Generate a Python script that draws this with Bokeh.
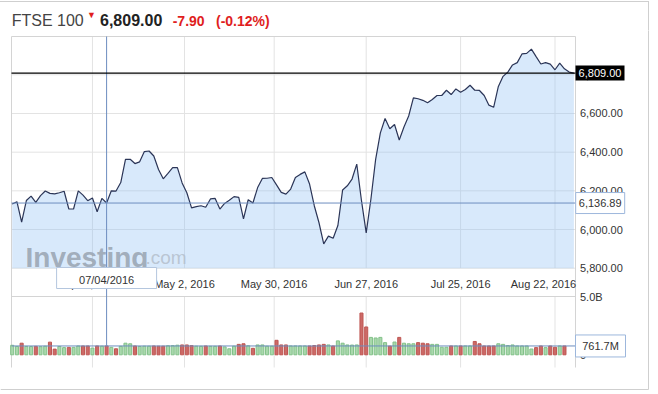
import numpy as np
import pandas as pd
from bokeh.plotting import figure
from bokeh.models import Range1d, Div
from bokeh.core.properties import value
from bokeh.layouts import column
from bokeh.embed import file_html
from bokeh.resources import INLINE

# ---------------- data ----------------
start_date = "2016-03-08"
end_date = "2016-08-26"
holidays = ["2016-03-25", "2016-03-28", "2016-05-02", "2016-05-30"]

close = [
    6132, 6144, 6038, 6150, 6173, 6140, 6175, 6199, 6187, 6184,
    6190, 6198, 6106, 6106, 6200, 6178, 6149, 6163, 6092, 6161,
    6136.89, 6200, 6199, 6243, 6363, 6363, 6341, 6350, 6403, 6406,
    6380, 6310, 6262, 6290, 6320, 6320, 6241, 6190, 6112, 6118,
    6123, 6115, 6158, 6161, 6106, 6135, 6151, 6170, 6166, 6055,
    6154, 6137, 6217, 6264, 6265, 6269, 6231, 6192, 6183, 6209,
    6269, 6285, 6298, 6235, 6123, 6035, 5926, 5966, 5955, 6021,
    6204, 6226, 6261, 6338, 6149, 5983, 6158, 6363, 6500, 6574,
    6521, 6543, 6463, 6530, 6587, 6681, 6676, 6668, 6655, 6672,
    6693, 6693, 6720, 6698, 6727, 6710, 6724, 6746, 6720, 6719,
    6693, 6643, 6632, 6740, 6792, 6814, 6851, 6863, 6908, 6911,
    6933, 6894, 6856, 6863, 6855, 6826, 6860, 6831, 6814, 6809,
]

volume_m = [
    820, 720, 1000, 720, 710, 730, 700, 740, 1090, 490,
    720, 620, 640, 640, 760, 760, 760, 580, 760, 740,
    761.7, 640, 520, 730, 1000, 950, 760, 720, 740, 740,
    760, 740, 740, 780, 790, 830, 850, 850, 790, 740,
    730, 760, 730, 730, 760, 680, 520, 740, 900, 950,
    780, 560, 850, 850, 740, 740, 1250, 850, 850, 760,
    760, 760, 760, 760, 800, 850, 900, 850, 760, 1200,
    1000, 850, 840, 850, 3600, 2400, 1500, 1450, 1500, 1050,
    750, 1100, 1500, 1000, 950, 950, 1050, 1000, 950, 900,
    900, 650, 650, 760, 760, 760, 760, 760, 1150, 950,
    760, 760, 760, 950, 900, 800, 850, 760, 760, 760,
    500, 620, 760, 620, 760, 650, 760, 760,
]

tick_dates = ["2016-04-04", "2016-05-02", "2016-05-30", "2016-06-27", "2016-07-25", "2016-08-22"]
tick_labels = ["Apr 4, 2016", "May 2, 2016", "May 30, 2016", "Jun 27, 2016", "Jul 25, 2016", "Aug 22, 2016"]
price_ticks = [5800, 6000, 6200, 6400, 6600, 6800]
volume_ticks = [0, 5.0e9]
volume_tick_labels = ["0", "5.0B"]

last_price = 6809.00
cross_date = "2016-04-07"
cross_price = 6136.89
cross_volume_label = "761.7M"
cross_date_label = "07/04/2016"

# ---------------- layout constants (page pixels) ----------------
W, H = 656, 392
HEADER_H = 30
FIG_TOP = HEADER_H
X0_PX, DX_PX = 11.7, 4.72            # first trading day, px per trading day
PRICE_BASE_PX, PRICE_K = 267.7, 0.1934  # y of 5800, px per index point
PRICE_BASE = 5800
VOL_BASE_PX, VOL_K = 354.3, 11.6e-9   # y of zero volume, px per share
PANE_L, PANE_R = 11, 575
PRICE_T, BAND_B, VOL_B = 36, 296, 367
BOX_R = 648
BOTTOM_LINE = 389

def X(px):
    return (px - X0_PX) / DX_PX

def PY(py):
    return PRICE_BASE + (PRICE_BASE_PX - py) / PRICE_K

def VY(py):
    return (VOL_BASE_PX - py) / VOL_K

# ---------------- derived ----------------
days = pd.bdate_range(start_date, end_date)
days = days[~days.isin(pd.to_datetime(holidays))]
idx = np.arange(len(close))
vol = np.array(volume_m) * 1e6
vidx = idx[:len(vol)]

def pos_of(d):
    d = pd.Timestamp(d)
    k = int(days.searchsorted(d))
    return float(k) if days[k] == d else k - 0.5

grid_pos = [pos_of(d) for d in tick_dates]
label_pos = [min(g, X(PANE_R) - 6.8) for g in grid_pos]
cross_i = pos_of(cross_date)
cross_vol = vol[int(cross_i)]

up = [True] + [close[i] >= close[i - 1] for i in range(1, len(vol))]
bar_fill = ["#a9d8ac" if u else "#cc6a67" for u in up]
bar_line = ["#82c189" if u else "#bf5652" for u in up]

FONT = value("Liberation Sans")
CROSS = "#6d8dbf"
GRID = "#e3e3e3"
BORDER = "#d4d4d4"
TXT = "#333333"

# ---------------- header ----------------
header_html = f"""
<div style="position:relative;width:{W}px;height:{HEADER_H}px;font-family:'Liberation Sans',Arial,sans-serif;">
 <div style="position:absolute;left:0;top:1px;width:{BOX_R}px;height:1px;background:#cfcfcf;"></div>
 <div style="position:absolute;left:{BOX_R}px;top:1px;width:1px;height:{HEADER_H}px;background:#cfcfcf;"></div>
 <span style="position:absolute;left:11.7px;top:13.2px;font-size:16px;line-height:16px;color:#444;white-space:nowrap;">FTSE 100</span>
 <span style="position:absolute;left:87px;top:11px;font-size:9px;line-height:9px;color:#e01e1e;">&#9660;</span>
 <span style="position:absolute;left:100px;top:13.2px;font-size:16px;line-height:16px;font-weight:bold;color:#222;white-space:nowrap;">6,809.00</span>
 <span style="position:absolute;left:172.7px;top:13.9px;font-size:14px;line-height:14px;font-weight:bold;color:#e01e1e;white-space:nowrap;">-7.90</span>
 <span style="position:absolute;left:216px;top:13.9px;font-size:14px;line-height:14px;font-weight:bold;color:#e01e1e;white-space:nowrap;">(-0.12%)</span>
</div>
"""
header = Div(text=header_html, width=W, height=HEADER_H, margin=0)

# ---------------- chart ----------------
p = figure(width=W, height=H - HEADER_H,
           x_range=Range1d(X(0), X(W)), y_range=Range1d(PY(H), PY(FIG_TOP)),
           output_backend="svg", toolbar_location=None,
           x_axis_location=None, y_axis_location=None,
           min_border=0, outline_line_color=None, margin=0)
p.extra_y_ranges = {"vol": Range1d(VY(H), VY(FIG_TOP))}
p.grid.visible = False

# grid lines
p.segment(x0=grid_pos, y0=[PRICE_BASE] * len(grid_pos), x1=grid_pos, y1=[PY(PRICE_T)] * len(grid_pos),
          line_color=GRID, line_width=1)
p.segment(x0=[X(PANE_L)] * len(price_ticks), y0=price_ticks, x1=[X(PANE_R)] * len(price_ticks), y1=price_ticks,
          line_color=GRID, line_width=1)
p.segment(x0=grid_pos, y0=[VY(VOL_B)] * len(grid_pos), x1=grid_pos, y1=[VY(BAND_B)] * len(grid_pos),
          line_color=GRID, line_width=1, y_range_name="vol")

# pane borders
p.segment(x0=[X(PANE_L), X(PANE_L), X(PANE_R), X(PANE_L)],
          y0=[PY(PRICE_T), PY(PRICE_T), PY(PRICE_T), PY(BAND_B)],
          x1=[X(PANE_R), X(PANE_L), X(PANE_R), X(PANE_R)],
          y1=[PY(PRICE_T), PY(VOL_B), PY(VOL_B), PY(BAND_B)],
          line_color=BORDER, line_width=1)
# outer widget border
p.segment(x0=[X(BOX_R), X(0)], y0=[PY(FIG_TOP), PY(BOTTOM_LINE)],
          x1=[X(BOX_R), X(BOX_R)], y1=[PY(BOTTOM_LINE), PY(BOTTOM_LINE)],
          line_color="#cfcfcf", line_width=1)

# price area
p.varea(x=idx, y1=PRICE_BASE, y2=close, fill_color="#90c0f4", fill_alpha=0.35)

# watermark
p.text(x=[X(25)], y=[PY(256.7)], text=["Investing"], text_font=FONT, text_font_size="28px",
       text_font_style="bold", text_color="#9ba6b3", text_alpha=0.9, text_baseline="alphabetic")
p.text(x=[X(145)], y=[PY(256.7)], text=[".com"], text_font=FONT, text_font_size="19px",
       text_color="#b6c1ce", text_alpha=0.9, text_baseline="alphabetic")

# price line
p.line(idx, close, line_color="#2b3557", line_width=1.2)

# volume bars
p.vbar(x=vidx, top=vol, bottom=0, width=0.65, fill_color=bar_fill, line_color=bar_line,
       line_width=1, y_range_name="vol")

# crosshair and last price line
p.segment(x0=[cross_i], y0=[cross_vol], x1=[cross_i], y1=[VY(PRICE_T)], line_color=CROSS,
          line_width=1, y_range_name="vol")
p.segment(x0=[X(PANE_L)], y0=[cross_price], x1=[X(PANE_R)], y1=[cross_price], line_color=CROSS, line_width=1)
p.segment(x0=[X(PANE_L)], y0=[cross_vol], x1=[X(PANE_R)], y1=[cross_vol], line_color=CROSS,
          line_width=1, y_range_name="vol")
p.segment(x0=[X(PANE_L)], y0=[last_price], x1=[X(PANE_R)], y1=[last_price], line_color="black", line_width=1.3)

# axis tick labels
p.text(x=[X(579.5)] * len(price_ticks), y=price_ticks, text=[f"{t:,.2f}" for t in price_ticks],
       text_font=FONT, text_font_size="11px", text_color=TXT, text_align="left", text_baseline="middle")
p.text(x=label_pos, y=[PY(283.5)] * len(label_pos), text=tick_labels,
       text_font=FONT, text_font_size="11px", text_color=TXT, text_align="center", text_baseline="middle")
p.text(x=[X(579.5)] * len(volume_ticks), y=volume_ticks, text=volume_tick_labels,
       text_font=FONT, text_font_size="11px", text_color=TXT, text_align="left", text_baseline="middle",
       y_range_name="vol")

# value boxes
p.rect(x=[X(599.5)], y=[last_price], width=49, height=15, width_units="screen", height_units="screen",
       fill_color="black", line_color=None)
p.text(x=[X(599.5)], y=[last_price], text=[f"{last_price:,.2f}"], text_font=FONT, text_font_size="11px",
       text_color="white", text_align="center", text_baseline="middle")

p.rect(x=[X(599.7)], y=[cross_price], width=49, height=21, width_units="screen", height_units="screen",
       fill_color="white", line_color="#9db7dc")
p.text(x=[X(599.7)], y=[cross_price], text=[f"{cross_price:,.2f}"], text_font=FONT, text_font_size="11px",
       text_color=TXT, text_align="center", text_baseline="middle")

p.rect(x=[cross_i], y=[PY(277.5)], width=100, height=21, width_units="screen", height_units="screen",
       fill_color="white", line_color="#b4c6de")
p.text(x=[cross_i], y=[PY(279)], text=[cross_date_label], text_font=FONT, text_font_size="11px",
       text_color=TXT, text_align="center", text_baseline="middle")

p.rect(x=[X(600)], y=[cross_vol], width=50, height=22, width_units="screen", height_units="screen",
       fill_color="white", line_color="#9db7dc", y_range_name="vol")
p.text(x=[X(600)], y=[cross_vol], text=[cross_volume_label], text_font=FONT, text_font_size="11px",
       text_color=TXT, text_align="center", text_baseline="middle", y_range_name="vol")

layout = column(header, p, spacing=0)
open("out.html", "w").write(file_html(layout, INLINE))
